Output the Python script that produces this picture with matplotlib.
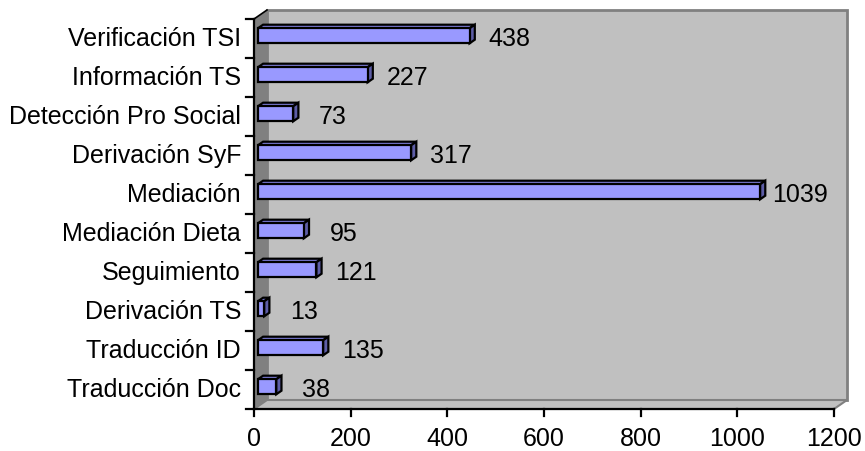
import matplotlib.pyplot as plt
from matplotlib.patches import Polygon

plt.rcParams['font.family'] = ['Liberation Sans', 'DejaVu Sans']

# Service counts, listed bottom to top
categories = ['Traducción Doc', 'Traducción ID', 'Derivación TS', 'Seguimiento',
              'Mediación Dieta', 'Mediación', 'Derivación SyF',
              'Detección Pro Social', 'Información TS', 'Verificación TSI']
values = [38, 135, 13, 121, 95, 1039, 317, 73, 227, 438]
x_ticks = [0, 200, 400, 600, 800, 1000, 1200]

W, H = 865, 452
fig = plt.figure(figsize=(W / 100, H / 100), dpi=100)
# front plane of the plot area in pixels
left, right, bottom, top = 254, 834, 410, 20
ax = fig.add_axes([left / W, (H - bottom) / H, (right - left) / W, (bottom - top) / H])
xmax = 1200
n = len(categories)
ax.set_xlim(0, xmax)
ax.set_ylim(0, n)
ax.axis('off')

# pixel -> data scale
sx = xmax / (right - left)
sy = n / (bottom - top)
# depth of the box (13 px right, 9 px up)
DX, DY = 13 * sx, 9 * sy
FS = 18

def poly(pts, fc, ec='none', lw=0, z=1):
    ax.add_patch(Polygon(pts, closed=True, facecolor=fc, edgecolor=ec,
                         linewidth=lw, clip_on=False, zorder=z, joinstyle='miter'))

# back wall, side wall and floor
poly([(DX, DY), (xmax + DX, DY), (xmax + DX, n + DY), (DX, n + DY)], '#c0c0c0', '#808080', 2, 1)
poly([(0, 0), (DX, DY), (DX, n + DY), (0, n)], '#808080', z=2)
poly([(0, 0), (xmax, 0), (xmax + DX, DY), (DX, DY)], '#c0c0c0', '#808080', 1.5, 2)
ax.plot([0, DX], [n, n + DY], color='black', lw=1.2, clip_on=False, zorder=3)

# bars drawn as front, top and end faces
f0, f1 = 0.3, 0.7
bar_h = 15 * sy
for i, v in enumerate(values):
    y0 = i + 0.5 - bar_h / 2
    y1 = y0 + bar_h
    ox0, oy0 = f0 * DX, f0 * DY
    ox1, oy1 = f1 * DX, f1 * DY
    front = [(ox0, y0 + oy0), (v + ox0, y0 + oy0), (v + ox0, y1 + oy0), (ox0, y1 + oy0)]
    topf = [(ox0, y1 + oy0), (v + ox0, y1 + oy0), (v + ox1, y1 + oy1), (ox1, y1 + oy1)]
    side = [(v + ox0, y0 + oy0), (v + ox1, y0 + oy1), (v + ox1, y1 + oy1), (v + ox0, y1 + oy0)]
    poly(topf, '#7b7bd6', 'black', 1.6, 5)
    poly(side, '#5d5da6', 'black', 1.6, 5)
    poly(front, '#9999ff', 'black', 1.6, 6)
    ax.text(v + ox0 + 40 * sx, i + 0.5, str(v), ha='center', va='center',
            fontsize=FS, zorder=7)

# axes lines and ticks
ax.plot([0, 0], [0, n], color='black', lw=1.6, clip_on=False, zorder=8)
ax.plot([0, xmax], [0, 0], color='black', lw=1.6, clip_on=False, zorder=8)
for k in range(n + 1):
    ax.plot([-8 * sx, 0], [k, k], color='black', lw=1.6, clip_on=False, zorder=8)
for t in x_ticks:
    ax.plot([t, t], [0, -7 * sy], color='black', lw=1.6, clip_on=False, zorder=8)
    ax.text(t, -17 * sy, str(t), ha='center', va='top', fontsize=FS)
for i, c in enumerate(categories):
    ax.text(-13 * sx, i + 0.5, c, ha='right', va='center', fontsize=FS)

fig.savefig('out.png', dpi=100)
